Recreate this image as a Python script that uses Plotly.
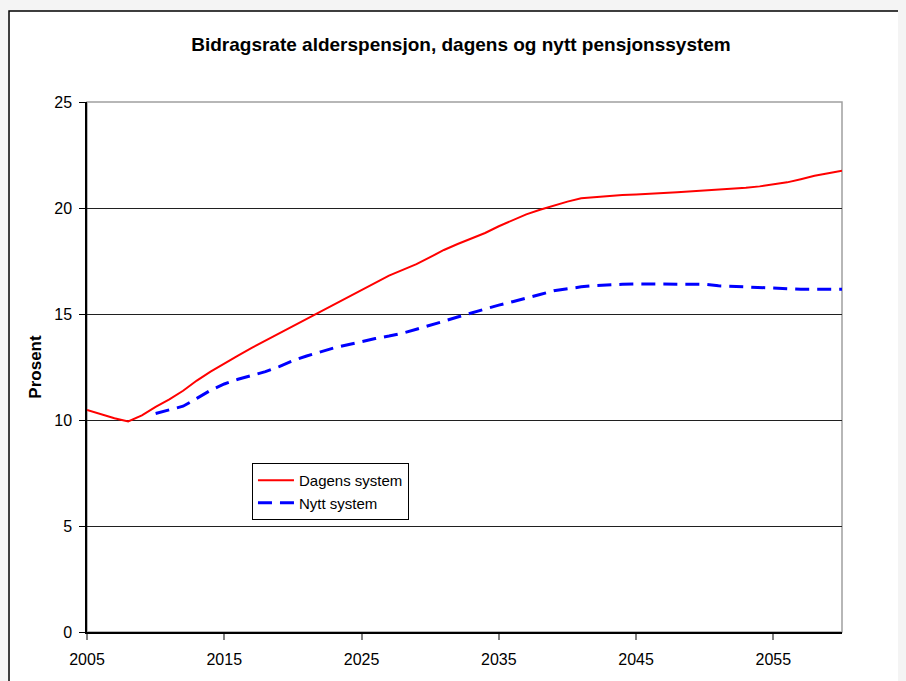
import plotly.graph_objects as go

years = list(range(2005, 2061))

dagens = [10.47, 10.28, 10.08, 9.93, 10.22, 10.62, 10.97, 11.38, 11.86, 12.28,
          12.68, 13.04, 13.40, 13.74, 14.08, 14.43, 14.78, 15.12, 15.48, 15.82,
          16.16, 16.49, 16.81, 17.08, 17.35, 17.68, 18.02, 18.30, 18.55, 18.82,
          19.14, 19.43, 19.70, 19.92, 20.12, 20.30, 20.46, 20.52, 20.57, 20.61,
          20.64, 20.69, 20.71, 20.74, 20.78, 20.80, 20.84, 20.89, 20.95, 21.02,
          21.10, 21.21, 21.36, 21.52, 21.64, 21.76]

nytt = [None, None, None, None, None, 10.31, 10.48, 10.65, 11.02, 11.40,
        11.70, 11.92, 12.10, 12.28, 12.52, 12.80, 13.02, 13.22, 13.40, 13.55,
        13.70, 13.84, 13.96, 14.10, 14.28, 14.46, 14.66, 14.86, 15.05, 15.25,
        15.42, 15.58, 15.74, 15.92, 16.10, 16.20, 16.28, 16.34, 16.38, 16.40,
        16.42, 16.42, 16.42, 16.42, 16.42, 16.40, 16.33, 16.30, 16.28, 16.24,
        16.20, 16.17, 16.17, 16.17, 16.17, 16.17]

x_ticks = [2005, 2015, 2025, 2035, 2045, 2055]
y_ticks = [0, 5, 10, 15, 20, 25]

FONT = "Liberation Sans, Arial, sans-serif"

fig = go.Figure()
fig.add_trace(go.Scatter(x=years, y=dagens, mode="lines", name="Dagens system",
                         line=dict(color="#ff0000", width=2)))
fig.add_trace(go.Scatter(x=years, y=nytt, mode="lines", name="Nytt system",
                         line=dict(color="#0000ff", width=3, dash="14px,8px")))

# white chart area with black border (left/top visible)
fig.add_shape(type="rect", xref="paper", yref="paper",
              x0=-0.1033, x1=1.3, y0=-0.3, y1=1.1717,
              fillcolor="white", line=dict(color="black", width=1.5), layer="below")
# plot area gray border
fig.add_shape(type="rect", xref="x domain", yref="y domain",
              x0=0, x1=1, y0=0, y1=1,
              line=dict(color="#a0a0a0", width=1.5), layer="below")

fig.update_layout(
    width=906, height=681,
    margin=dict(l=79, r=72, t=94, b=57),
    paper_bgcolor="#f4f4f4",
    plot_bgcolor="white",
    font=dict(family=FONT, size=16, color="black"),
    title=dict(text="<b>Bidragsrate alderspensjon, dagens og nytt pensjonssystem</b>",
               x=0.5, xanchor="center", y=0.947, yanchor="middle",
               font=dict(size=19, family=FONT)),
    showlegend=True,
    legend=dict(x=0.2185, y=0.319, xanchor="left", yanchor="top",
                bgcolor="white", bordercolor="black", borderwidth=1,
                font=dict(size=15, family=FONT), tracegroupgap=4,
                itemwidth=36),
    xaxis=dict(range=[2005, 2060], tickvals=x_ticks, showgrid=False,
               showline=True, linecolor="black", linewidth=1.5,
               ticks="outside", ticklen=6, tickcolor="#808080", tickwidth=1.5,
               ticklabelstandoff=6,
               zeroline=False, tickfont=dict(size=16)),
    yaxis=dict(range=[0, 25], tickvals=y_ticks, showgrid=True,
               gridcolor="#202020", gridwidth=1.3,
               showline=True, linecolor="black", linewidth=1.5,
               ticks="outside", ticklen=6, tickcolor="black",
               ticklabelstandoff=4,
               zeroline=False, tickfont=dict(size=16),
               title=dict(text="<b>Prosent</b>", font=dict(size=17), standoff=8)),
)

fig.write_html("out.html", post_script="document.body.style.background='#f4f4f4';")
